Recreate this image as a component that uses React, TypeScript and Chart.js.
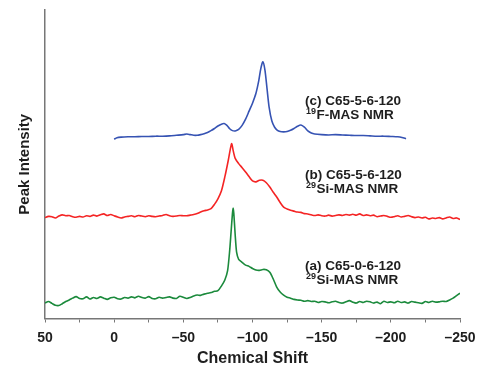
import React, { useEffect, useRef } from 'react';
import { Chart, registerables } from 'chart.js';

Chart.register(...registerables);

const FONT = "'Liberation Sans', Arial, Helvetica, sans-serif";

// (a) C65-0-6-120, 29Si-MAS NMR (green)
const shiftsA = [
  50, 47.5, 45, 42.5, 40, 37.5, 35, 32.5, 30, 27.5,
  25, 22.5, 20, 17.5, 15, 12.5, 10, 7.5, 5, 2.5,
  0, -2.5, -5, -7.5, -10, -12.5, -15, -17.5, -20, -22.5,
  -25, -27.5, -30, -32.5, -35, -37.5, -40, -42.5, -45, -47.5,
  -50, -52.5, -55, -57.5, -60, -62.5, -65, -67.5, -70, -72.5,
  -75, -77.5, -80, -82, -83.5, -84.5, -85.5, -86, -86.5, -87.5,
  -88.5, -90, -92.5, -95, -97.5, -100, -102.5, -105, -107.5, -110,
  -112.5, -115, -117.5, -120, -122.5, -125, -127.5, -130, -132.5, -135,
  -137.5, -140, -142.5, -145, -147.5, -150, -152.5, -155, -157.5, -160,
  -162.5, -165, -167.5, -170, -172.5, -175, -177.5, -180, -182.5, -185,
  -187.5, -190, -192.5, -195, -197.5, -200, -202.5, -205, -207.5, -210,
  -212.5, -215, -217.5, -220, -222.5, -225, -227.5, -230, -232.5, -235,
  -237.5, -240, -242.5, -245, -247.5, -250,
];
const intensityA = [
  5.0, 5.5, 4.9, 4.3, 4.2, 4.8, 5.5, 6.0, 6.6, 7.1,
  6.5, 6.4, 7.0, 6.3, 6.8, 6.5, 7.0, 6.6, 6.2, 6.7,
  6.9, 6.4, 6.3, 6.8, 6.6, 7.0, 6.7, 7.2, 6.8, 6.6,
  7.1, 6.5, 6.4, 6.9, 6.6, 6.8, 7.0, 6.6, 6.5, 7.2,
  6.9, 6.5, 6.8, 7.3, 7.6, 7.5, 7.9, 8.2, 8.4, 8.8,
  9.0, 10.5, 12.5, 15.5, 22.0, 28.0, 34.0, 35.8, 34.0, 27.0,
  21.5, 19.2, 18.2, 17.3, 16.9, 16.2, 15.7, 15.6, 15.9, 15.8,
  15.0, 12.8, 10.2, 8.6, 7.6, 6.9, 6.6, 6.2, 6.0, 5.9,
  5.6, 5.8, 5.5, 5.6, 5.2, 5.5, 5.4, 5.1, 5.4, 5.6,
  5.2, 5.0, 5.4, 5.8, 5.3, 5.0, 5.5, 5.2, 5.6, 5.4,
  5.0, 5.3, 4.8, 5.6, 5.2, 5.4, 5.1, 5.6, 5.2, 5.4,
  5.0, 5.5, 5.3, 5.1, 4.9, 5.5, 5.2, 5.6, 5.3, 5.4,
  5.6, 5.5, 6.0, 6.6, 7.4, 8.2,
];

// (b) C65-5-6-120, 29Si-MAS NMR (red)
const shiftsB = [
  50, 47.5, 45, 42.5, 40, 37.5, 35, 32.5, 30, 27.5,
  25, 22.5, 20, 17.5, 15, 12.5, 10, 7.5, 5, 2.5,
  0, -2.5, -5, -7.5, -10, -12.5, -15, -17.5, -20, -22.5,
  -25, -27.5, -30, -32.5, -35, -37.5, -40, -42.5, -45, -47.5,
  -50, -52.5, -55, -57.5, -60, -62.5, -65, -67.5, -70, -72.5,
  -75, -77.5, -80, -82.5, -84, -85, -86, -87.5, -90, -92.5,
  -95, -97.5, -100, -102.5, -105, -107.5, -110, -112.5, -115, -117.5,
  -120, -122.5, -125, -127.5, -130, -132.5, -135, -137.5, -140, -142.5,
  -145, -147.5, -150, -152.5, -155, -157.5, -160, -162.5, -165, -167.5,
  -170, -172.5, -175, -177.5, -180, -182.5, -185, -187.5, -190, -192.5,
  -195, -197.5, -200, -202.5, -205, -207.5, -210, -212.5, -215, -217.5,
  -220, -222.5, -225, -227.5, -230, -232.5, -235, -237.5, -240, -242.5,
  -245, -247.5, -250,
];
const intensityB = [
  32.7, 33.1, 33.0, 32.6, 33.2, 33.6, 33.3, 33.4, 33.0, 32.8,
  33.1, 32.9, 33.3, 33.1, 33.5, 33.2, 33.6, 33.9, 33.4, 33.7,
  33.3, 32.9, 32.6, 32.9, 33.1, 33.3, 33.0, 33.4, 33.2, 33.0,
  33.3, 33.1, 33.0, 33.2, 33.4, 33.7, 33.3, 33.1, 33.2, 33.4,
  33.3, 33.3, 33.5, 33.7, 34.0, 34.5, 34.9, 35.2, 35.6, 37.0,
  38.8, 41.3, 45.9, 51.3, 55.0, 56.7, 54.5, 51.9, 50.2, 48.9,
  47.5, 46.0, 44.6, 44.3, 44.8, 44.8, 44.0, 42.6, 40.9, 39.4,
  37.6, 36.1, 35.5, 35.1, 34.8, 34.5, 34.4, 34.0, 33.9, 33.6,
  33.4, 33.6, 33.3, 33.2, 33.5, 33.2, 33.4, 33.6, 33.4, 33.7,
  33.5, 33.8, 33.5, 33.9, 33.4, 33.6, 33.3, 33.5, 33.0, 33.2,
  33.4, 33.1, 32.8, 33.0, 33.3, 32.9, 33.1, 33.4, 33.0, 32.7,
  32.9, 32.6, 32.8, 32.3, 32.6, 32.4, 32.7, 32.3, 32.6, 32.9,
  32.4, 32.6, 32.1,
];

// (c) C65-5-6-120, 19F-MAS NMR (blue)
const shiftsC = [
  0, -2, -5, -10, -15, -20, -25, -30, -35, -40,
  -45, -50, -52.5, -55, -57.5, -60, -62.5, -65, -67.5, -70,
  -72.5, -75, -77.5, -79.5, -81.5, -83.5, -85.5, -87.5, -90, -92.5,
  -95, -97.5, -100, -102.5, -104.5, -106, -107.5, -109, -110.5, -112,
  -114, -116, -118, -120, -122.5, -125, -127.5, -130, -132.5, -135,
  -137.5, -140, -142.5, -145, -150, -155, -160, -165, -170, -175,
  -180, -185, -190, -195, -200, -205, -208, -211,
];
const intensityC = [
  58.1, 58.6, 58.8, 58.9, 58.9, 59.0, 59.0, 59.1, 59.1, 59.2,
  59.4, 59.6, 59.8, 59.6, 59.4, 59.4, 59.6, 59.9, 60.3, 60.9,
  61.6, 62.4, 63.0, 63.2, 62.6, 61.5, 60.9, 60.8, 61.3, 62.6,
  64.6, 67.2, 69.8, 73.0, 77.0, 81.0, 83.2, 80.5, 74.5, 68.5,
  64.0, 62.0, 61.0, 60.6, 60.5, 60.6, 61.0, 61.6, 62.3, 62.7,
  62.0, 60.8, 60.1, 59.8, 59.6, 59.5, 59.6, 59.5, 59.4, 59.3,
  59.3, 59.2, 59.1, 59.1, 59.0, 58.9, 58.7, 58.3,
];

// Annotation texts for each spectrum
const labelTitles = ['(c) C65-5-6-120', '(b) C65-5-6-120', '(a) C65-0-6-120'];
const labelIsotopes = ['19', '29', '29'];
const labelMethods = ['F-MAS NMR', 'Si-MAS NMR', 'Si-MAS NMR'];
// Anchors (chemical shift, intensity) of the first text line baseline
const labelShift = -138;
const labelLevels = [69.2, 45.1, 15.7];

const TEXT_COLOR = '#1e1e1e';

const labelPlugin = {
  id: 'spectrumLabels',
  afterDatasetsDraw(chart: any) {
    const { ctx, scales } = chart;
    const xs = scales.x;
    const ys = scales.y;
    ctx.save();
    ctx.fillStyle = TEXT_COLOR;
    ctx.textBaseline = 'alphabetic';
    ctx.textAlign = 'left';
    labelTitles.forEach((title, i) => {
      const x = xs.getPixelForValue(labelShift);
      const y = ys.getPixelForValue(labelLevels[i]);
      ctx.font = `bold 13.5px ${FONT}`;
      ctx.fillText(title, x, y);
      ctx.font = `bold 9px ${FONT}`;
      const supW = ctx.measureText(labelIsotopes[i]).width;
      ctx.fillText(labelIsotopes[i], x + 1, y + 13.5 - 5);
      ctx.font = `bold 13.5px ${FONT}`;
      ctx.fillText(labelMethods[i], x + 1 + supW + 0.5, y + 13.5);
    });
    ctx.restore();
  },
};

export default function App() {
  const ref = useRef<HTMLCanvasElement>(null);
  useEffect(() => {
    const toPts = (xs: number[], ys: number[]) => xs.map((x, i) => ({ x, y: ys[i] }));
    const chart = new Chart(ref.current as HTMLCanvasElement, {
      type: 'line',
      data: {
        datasets: [
          { label: 'a', data: toPts(shiftsA, intensityA), borderColor: '#1b8a3c' },
          { label: 'b', data: toPts(shiftsB, intensityB), borderColor: '#f42424' },
          { label: 'c', data: toPts(shiftsC, intensityC), borderColor: '#3653b3' },
        ],
      },
      options: {
        responsive: false,
        animation: false,
        parsing: false as any,
        layout: { padding: { left: 0, right: 40, top: 10, bottom: 0 } },
        plugins: { legend: { display: false }, tooltip: { enabled: false } },
        elements: {
          point: { radius: 0 },
          line: { tension: 0.25, borderWidth: 1.6, fill: false },
        },
        scales: {
          x: {
            type: 'linear',
            reverse: true,
            min: -250,
            max: 50,
            ticks: {
              stepSize: 25,
              autoSkip: false,
              maxRotation: 0,
              padding: 7,
              color: TEXT_COLOR,
              font: { family: FONT, size: 14, weight: 'bold' },
              callback: (v: any) => {
                const n = Number(v);
                if (n % 50 !== 0) return '';
                return n < 0 ? '\u2013' + Math.abs(n) : String(n);
              },
            },
            grid: {
              display: true,
              drawOnChartArea: false,
              drawTicks: true,
              tickLength: 4,
              color: '#777',
              lineWidth: 1,
            },
            border: { display: true, color: '#777', width: 1.5 },
            title: {
              display: true,
              text: 'Chemical Shift',
              color: TEXT_COLOR,
              font: { family: FONT, size: 16, weight: 'bold' },
              padding: { top: 0, bottom: 9 },
            },
            afterFit: (s: any) => {
              s.height = 58.5;
            },
          },
          y: {
            type: 'linear',
            min: 0,
            max: 100,
            ticks: { display: false },
            grid: { display: false },
            border: { display: true, color: '#777', width: 1.5 },
            title: {
              display: true,
              text: 'Peak Intensity',
              color: TEXT_COLOR,
              font: { family: FONT, size: 15, weight: 'bold' },
              padding: { top: 16, bottom: 0 },
            },
            afterFit: (s: any) => {
              s.width = 45;
            },
          },
        },
      } as any,
      plugins: [labelPlugin],
    });
    return () => chart.destroy();
  }, []);
  return (
    <div style={{ position: 'fixed', left: 0, top: 0, width: 500, height: 377, background: '#fff' }}>
      <canvas ref={ref} width={500} height={377} style={{ display: 'block', width: 500, height: 377 }} />
    </div>
  );
}
